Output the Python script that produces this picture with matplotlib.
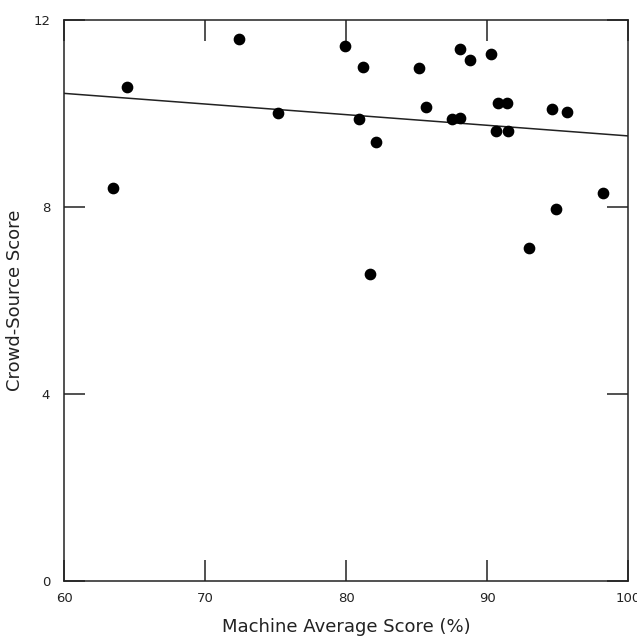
import matplotlib
matplotlib.use("Agg")
import matplotlib.pyplot as plt

# machine average score (%) vs crowd-source score
machine = [63.5, 64.5, 72.4, 75.2, 79.9, 81.2, 80.9, 82.1, 81.7,
           85.2, 85.7, 87.5, 88.1, 88.1, 88.8, 90.3, 90.8, 91.4,
           90.6, 91.5, 94.6, 95.7, 93.0, 94.9, 98.2]
crowd = [8.40, 10.56, 11.60, 10.00, 11.45, 11.00, 9.88, 9.40, 6.57,
         10.97, 10.14, 9.88, 9.90, 11.37, 11.14, 11.27, 10.22, 10.22,
         9.63, 9.63, 10.10, 10.04, 7.12, 7.96, 8.29]

# regression line
fit_slope = -0.02275
fit_intercept = 11.795

xticks = [60, 70, 80, 90, 100]
yticks = [0, 4, 8, 12]

plt.rcParams['font.family'] = ['DejaVu Sans']

fig = plt.figure(figsize=(6.37, 6.40), dpi=100)
ax = fig.add_axes([0.1005, 0.0922, 0.8855, 0.8766])

ax.scatter(machine, crowd, s=55, color='black', zorder=3)
ax.axline((0, fit_intercept), slope=fit_slope, color='#222222', lw=1.1)

ax.set_xlim(60, 100)
ax.set_ylim(0, 12)
ax.set_xticks(xticks)
ax.set_yticks(yticks)
ax.tick_params(direction='in', length=15, width=1.1, top=True, right=True,
               labelsize=9.5, colors='#222222')
ax.tick_params(axis='x', pad=8)
ax.tick_params(axis='y', pad=10)
for s in ax.spines.values():
    s.set_linewidth(1.1)
    s.set_color('#222222')

ax.set_xlabel('Machine Average Score (%)', fontsize=13, color='#222222')
ax.set_ylabel('Crowd-Source Score', fontsize=13, color='#222222')
ax.xaxis.set_label_coords(0.5, -0.066)
ax.yaxis.set_label_coords(-0.071, 0.5)

fig.savefig('out.png', dpi=100)
